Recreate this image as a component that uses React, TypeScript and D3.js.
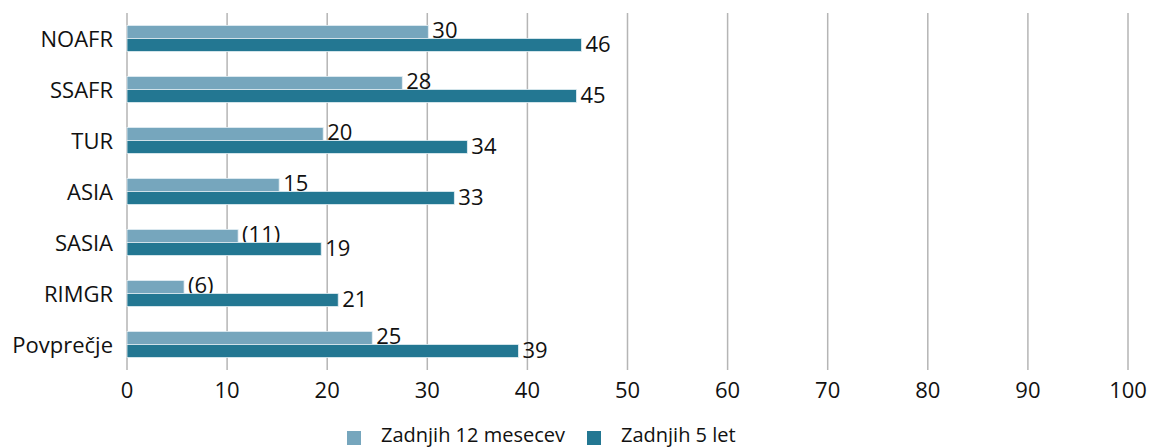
import React from "react";
import * as d3 from "d3";

const categories = ["NOAFR", "SSAFR", "TUR", "ASIA", "SASIA", "RIMGR", "Povprečje"];
const last12Values = [30.1, 27.5, 19.6, 15.2, 11.1, 5.7, 24.5];
const last12Labels = ["30", "28", "20", "15", "(11)", "(6)", "25"];
const last5Values = [45.4, 44.9, 34.0, 32.7, 19.4, 21.1, 39.1];
const last5Labels = ["46", "45", "34", "33", "19", "21", "39"];
const seriesNames = ["Zadnjih 12 mesecev", "Zadnjih 5 let"];
const xTicks = [0, 10, 20, 30, 40, 50, 60, 70, 80, 90, 100];

const W = 1150;
const H = 448;
const FONT = "'Open Sans', 'Noto Sans', sans-serif";
const LIGHT = "#76a6bd";
const DARK = "#237792";
const GRID = "#b5b5b5";

export default function App() {
  const x = d3.scaleLinear().domain([0, 100]).range([127, 1128]);
  const y = d3
    .scaleBand<string>()
    .domain(categories)
    .range([13, 370])
    .paddingInner(0.49)
    .paddingOuter(0.245);
  const sub = d3.scaleBand<number>().domain([0, 1]).range([0, y.bandwidth()]);
  const series = [
    { name: seriesNames[0], values: last12Values, labels: last12Labels, color: LIGHT },
    { name: seriesNames[1], values: last5Values, labels: last5Labels, color: DARK },
  ];
  const legendX = [347, 587];

  return (
    <svg
      width={W}
      height={H}
      style={{ position: "absolute", left: 0, top: 0, background: "#fff" }}
      fontFamily={FONT}
    >
      {xTicks.map((t) => (
        <g key={t}>
          <line x1={x(t)} x2={x(t)} y1={13} y2={370} stroke={GRID} strokeWidth={1.5} />
          <text x={x(t)} y={398} textAnchor="middle" fontSize={22} fill="#111">
            {t}
          </text>
        </g>
      ))}
      {categories.map((c, i) => (
        <g key={c}>
          <text
            x={113}
            y={(y(c) as number) + y.bandwidth() / 2 + 8}
            textAnchor="end"
            fontSize={22}
            fill="#111"
          >
            {c}
          </text>
          {series.map((s, j) => {
            const y0 = (y(c) as number) + (sub(j) as number);
            const w = x(s.values[i]) - x(0);
            return (
              <g key={j}>
                <rect
                  x={x(0)}
                  y={y0}
                  width={w}
                  height={sub.bandwidth()}
                  fill={s.color}
                  stroke="#e3eef3"
                  strokeWidth={0.8}
                />
                <text
                  x={x(s.values[i]) + 4}
                  y={y0 + sub.bandwidth() + (j === 0 ? -0.5 : 0.5)}
                  fontSize={22}
                  fill="#111"
                >
                  {s.labels[i]}
                </text>
              </g>
            );
          })}
        </g>
      ))}
      {series.map((s, j) => (
        <g key={s.name}>
          <rect x={legendX[j]} y={431} width={14} height={14} fill={s.color} />
          <text x={legendX[j] + 34} y={442} fontSize={20} fill="#111">
            {s.name}
          </text>
        </g>
      ))}
    </svg>
  );
}
